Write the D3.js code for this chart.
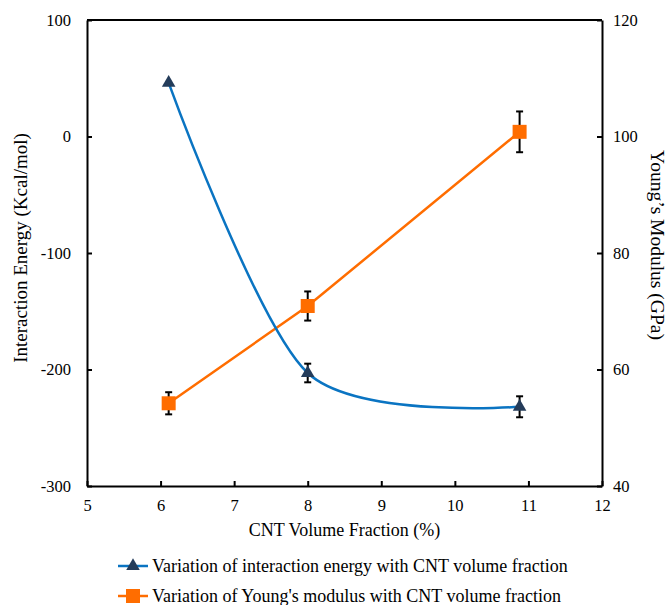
<!DOCTYPE html>
<html><head><meta charset="utf-8">
<script src="https://cdn.jsdelivr.net/npm/d3@7"></script>
<style>body{margin:0;background:#fff}svg text{font-family:"Liberation Serif","Times New Roman",serif}</style>
</head><body><svg id="c" width="668" height="605"></svg>
<script>
const xValues = [6.11, 8.0, 10.88];
const energy = [46, -203, -232];
const energyErr = [0, 8, 9];
const modulus = [54.2, 70.9, 100.8];
const modulusErr = [1.9, 2.5, 3.5];
const xTicks = [5, 6, 7, 8, 9, 10, 11, 12];
const yLeftTicks = [-300, -200, -100, 0, 100];
const yRightTicks = [40, 60, 80, 100, 120];
const seriesNames = ["Variation of interaction energy with CNT volume fraction", "Variation of Young's modulus with CNT volume fraction"];

const FONT = '"Liberation Serif","Times New Roman",serif';
const svg = d3.select("#c");
const L = 87, R = 602, T = 20, B = 486;
const x = d3.scaleLinear().domain([5, 12]).range([L, R]);
const yL = d3.scaleLinear().domain([-300, 100]).range([B, T]);
const yR = d3.scaleLinear().domain([40, 120]).range([B, T]);
const blue = "#0A74C2", orange = "#FF6D00", navy = "#243C5A";
const fmt = d => String(d);

// axes
const gx = svg.append("g").attr("transform", `translate(0,${B})`)
  .call(d3.axisBottom(x).tickValues(xTicks).tickFormat(fmt).tickSizeInner(-5).tickSizeOuter(0).tickPadding(13));
const gl = svg.append("g").attr("transform", `translate(${L},0)`)
  .call(d3.axisLeft(yL).tickValues(yLeftTicks).tickFormat(fmt).tickSizeInner(-5).tickSizeOuter(0).tickPadding(16));
const gr = svg.append("g").attr("transform", `translate(${R},0)`)
  .call(d3.axisRight(yR).tickValues(yRightTicks).tickFormat(fmt).tickSizeInner(-5).tickSizeOuter(0).tickPadding(11));
[gx, gl, gr].forEach(g => {
  g.attr("font-family", FONT).attr("font-size", 16.5);
  g.selectAll(".domain").attr("stroke", "#000").attr("stroke-width", 2);
  g.selectAll(".tick line").attr("stroke", "#000").attr("stroke-width", 2);
  g.selectAll("text").attr("font-size", 16.5).attr("fill", "#000").attr("font-family", FONT);
});
// top border
svg.append("line").attr("x1", L).attr("x2", R).attr("y1", T).attr("y2", T).attr("stroke", "#000").attr("stroke-width", 2);

// titles
svg.append("text").attr("x", (L + R) / 2).attr("y", 536).attr("text-anchor", "middle").attr("font-family", FONT).attr("font-size", 18).text("CNT Volume Fraction (%)");
svg.append("text").attr("transform", `translate(27,248) rotate(-90)`).attr("text-anchor", "middle").attr("font-family", FONT).attr("font-size", 19).text("Interaction Energy (Kcal/mol)");
svg.append("text").attr("transform", `translate(651,245) rotate(90)`).attr("text-anchor", "middle").attr("font-family", FONT).attr("font-size", 19.5).text("Young\u2019s Modulus (GPa)");

const eData = xValues.map((v, i) => ({x: v, y: energy[i], e: energyErr[i]}));
const mData = xValues.map((v, i) => ({x: v, y: modulus[i], e: modulusErr[i]}));

// lines
svg.append("path").datum(mData).attr("fill", "none").attr("stroke", orange).attr("stroke-width", 2.5)
  .attr("d", d3.line().x(d => x(d.x)).y(d => yR(d.y)));
svg.append("path").datum(eData).attr("fill", "none").attr("stroke", blue).attr("stroke-width", 2.5)
  .attr("d", d3.line().curve(d3.curveCardinal.tension(0.15)).x(d => x(d.x)).y(d => yL(d.y)));

// error bars
function errBars(data, y) {
  const g = svg.append("g").attr("stroke", "#000").attr("stroke-width", 2);
  data.filter(d => d.e > 0).forEach(d => {
    const cx = x(d.x), y1 = y(d.y + d.e), y2 = y(d.y - d.e);
    g.append("line").attr("x1", cx).attr("x2", cx).attr("y1", y1).attr("y2", y2);
    g.append("line").attr("x1", cx - 3.5).attr("x2", cx + 3.5).attr("y1", y1).attr("y2", y1);
    g.append("line").attr("x1", cx - 3.5).attr("x2", cx + 3.5).attr("y1", y2).attr("y2", y2);
  });
}
errBars(eData, yL);
errBars(mData, yR);

// markers
const tri = d3.symbol().type(d3.symbolTriangle).size(80);
svg.selectAll(".tri").data(eData).join("path").attr("d", tri)
  .attr("transform", d => `translate(${x(d.x)},${yL(d.y)})`).attr("fill", navy);
svg.selectAll(".sq").data(mData).join("rect")
  .attr("x", d => x(d.x) - 7).attr("y", d => yR(d.y) - 7).attr("width", 14).attr("height", 14).attr("fill", orange);

// legend
const lg = svg.append("g");
[[blue, "tri", 566], [orange, "sq", 596]].forEach(([col, m, ly], i) => {
  lg.append("line").attr("x1", 118).attr("x2", 148).attr("y1", ly).attr("y2", ly).attr("stroke", col).attr("stroke-width", 2.5);
  if (m === "tri") lg.append("path").attr("d", tri).attr("transform", `translate(133,${ly})`).attr("fill", navy);
  else lg.append("rect").attr("x", 126).attr("y", ly - 7).attr("width", 14).attr("height", 14).attr("fill", orange);
  lg.append("text").attr("x", 152).attr("y", ly).attr("dy", "0.35em").attr("font-family", FONT).attr("font-size", 18).text(seriesNames[i]);
});
</script></body></html>
